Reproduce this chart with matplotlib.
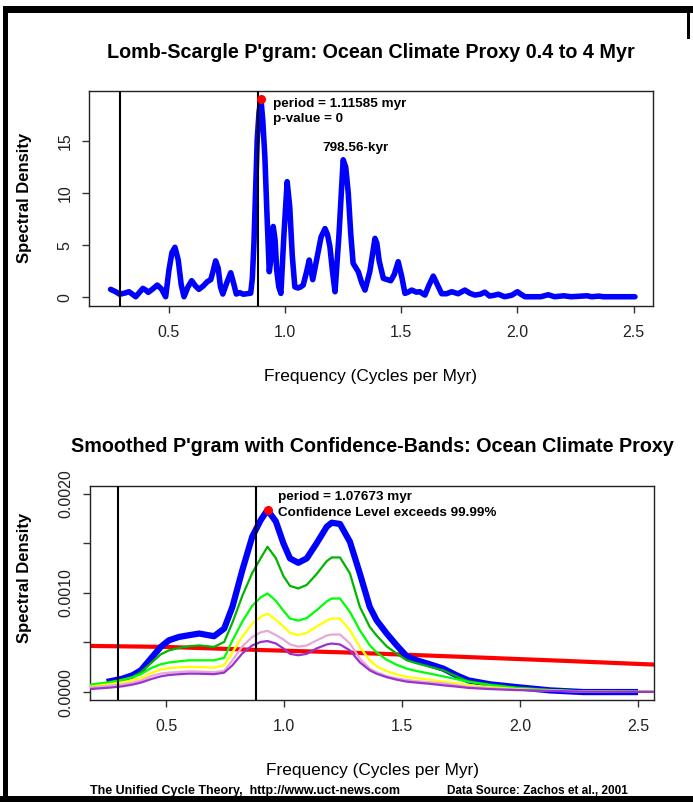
import numpy as np
import matplotlib
matplotlib.use("Agg")
import matplotlib.pyplot as plt
from matplotlib import font_manager
from matplotlib.patches import Rectangle

# ---- Lomb-Scargle periodogram (cycles per Myr vs spectral density) ----
ls_freq = [0.249, 0.270, 0.288, 0.308, 0.328, 0.343, 0.357, 0.372, 0.388, 0.400,
           0.411, 0.430, 0.450, 0.468, 0.486, 0.500, 0.513, 0.526, 0.540, 0.553,
           0.565, 0.582, 0.598, 0.614, 0.629, 0.648, 0.665, 0.680, 0.690, 0.701,
           0.712, 0.722, 0.732, 0.749, 0.766, 0.778, 0.790, 0.805, 0.820, 0.836,
           0.852, 0.859, 0.866, 0.873, 0.880, 0.888, 0.8962, 0.904, 0.913, 0.922,
           0.932, 0.940, 0.949, 0.957, 0.964, 0.973, 0.982, 0.995, 1.009, 1.020,
           1.031, 1.042, 1.055, 1.067, 1.078, 1.092, 1.104, 1.119, 1.135, 1.155,
           1.172, 1.183, 1.193, 1.204, 1.215, 1.232, 1.250, 1.261, 1.272, 1.283,
           1.293, 1.315, 1.330, 1.344, 1.365, 1.387, 1.395, 1.405, 1.423, 1.440,
           1.455, 1.470, 1.487, 1.502, 1.516, 1.530, 1.545, 1.565, 1.580, 1.602,
           1.620, 1.638, 1.656, 1.674, 1.695, 1.717, 1.745, 1.774, 1.795, 1.817,
           1.840, 1.860, 1.880, 1.900, 1.918, 1.945, 1.975, 2.000, 2.015, 2.033,
           2.100, 2.133, 2.160, 2.200, 2.230, 2.300, 2.320, 2.350, 2.370, 2.506]
ls_power = [0.77, 0.55, 0.30, 0.40, 0.54, 0.30, 0.06, 0.45, 0.86, 0.70,
            0.48, 0.80, 1.18, 0.80, 0.06, 2.60, 4.30, 4.80, 3.60, 1.20,
            0.06, 1.00, 1.60, 1.10, 0.77, 1.10, 1.50, 1.70, 2.50, 3.50,
            2.80, 1.00, 0.32, 1.40, 2.36, 1.40, 0.32, 0.45, 0.30, 0.35,
            0.40, 1.80, 5.20, 10.0, 15.1, 17.8, 19.0, 17.0, 13.5, 8.00,
            2.46, 3.80, 6.80, 5.50, 2.60, 1.00, 0.38, 6.00, 11.1, 8.70,
            4.00, 1.00, 0.90, 1.00, 1.18, 2.40, 3.58, 1.70, 3.50, 5.80,
            6.60, 6.00, 4.86, 2.50, 0.54, 6.00, 13.2, 12.5, 10.0, 6.00,
            3.26, 2.46, 1.40, 0.70, 2.50, 5.66, 5.20, 3.50, 1.82, 1.70,
            1.60, 2.20, 3.42, 2.00, 0.38, 0.50, 0.70, 0.50, 0.54, 0.22,
            1.20, 2.04, 1.20, 0.35, 0.35, 0.54, 0.35, 0.70, 0.40, 0.22,
            0.30, 0.50, 0.13, 0.20, 0.30, 0.06, 0.20, 0.54, 0.30, 0.06,
            0.06, 0.25, 0.06, 0.15, 0.06, 0.15, 0.06, 0.12, 0.06, 0.06]
ls_period = 1.11585            # myr, strongest peak
ls_peak = 19.0
ls_second_kyr = 798.56
ls_vlines = [0.289, 0.884]
ls_xticks = [0.5, 1.0, 1.5, 2.0, 2.5]
ls_yticks = [0, 5, 10, 15]

# ---- Smoothed periodogram with confidence bands (values in 1e-3 units) ----
sm_freq = [0.175, 0.260, 0.314, 0.356, 0.392, 0.434, 0.476, 0.511, 0.554, 0.596,
           0.639, 0.702, 0.745, 0.780, 0.822, 0.864, 0.900, 0.9287, 0.964, 0.996,
           1.024, 1.059, 1.095, 1.137, 1.180, 1.201, 1.236, 1.278, 1.320, 1.362,
           1.391, 1.434, 1.476, 1.519, 1.561, 1.617, 1.674, 1.730, 1.780, 1.872,
           1.985, 2.126, 2.267, 2.486, 2.567]
sm_spec = [np.nan, 0.108, 0.135, 0.169, 0.219, 0.337, 0.455, 0.522, 0.556, 0.573,
           0.590, 0.563, 0.640, 0.859, 1.229, 1.566, 1.734, 1.835, 1.720, 1.500,
           1.347, 1.303, 1.347, 1.500, 1.667, 1.707, 1.694, 1.515, 1.196, 0.859,
           0.724, 0.590, 0.472, 0.360, 0.320, 0.280, 0.236, 0.169, 0.118, 0.078,
           0.050, 0.017, 0.000, 0.000, np.nan]
band_9999 = [0.068, 0.091, 0.118, 0.150, 0.200, 0.290, 0.380, 0.420, 0.445, 0.462,
             0.470, 0.455, 0.505, 0.700, 0.970, 1.200, 1.350, 1.465, 1.350, 1.170,
             1.070, 1.044, 1.080, 1.190, 1.320, 1.357, 1.357, 1.196, 0.859, 0.657,
             0.570, 0.460, 0.388, 0.320, 0.290, 0.255, 0.219, 0.159, 0.108, 0.075,
             0.045, 0.022, 0.008, 0.003, 0.002]
band_999 = [0.075, 0.100, 0.125, 0.150, 0.180, 0.240, 0.280, 0.298, 0.310, 0.320,
            0.320, 0.320, 0.345, 0.520, 0.710, 0.870, 0.955, 0.994, 0.920, 0.820,
            0.741, 0.720, 0.745, 0.825, 0.915, 0.943, 0.943, 0.808, 0.623, 0.472,
            0.400, 0.325, 0.275, 0.236, 0.212, 0.186, 0.158, 0.130, 0.104, 0.070,
            0.040, 0.020, 0.007, 0.003, 0.002]
band_99 = [0.055, 0.080, 0.100, 0.120, 0.140, 0.190, 0.228, 0.242, 0.250, 0.253,
           0.252, 0.246, 0.270, 0.400, 0.560, 0.690, 0.760, 0.790, 0.730, 0.660,
           0.597, 0.575, 0.595, 0.660, 0.720, 0.741, 0.741, 0.623, 0.455, 0.320,
           0.260, 0.210, 0.178, 0.152, 0.140, 0.124, 0.105, 0.088, 0.070, 0.050,
           0.030, 0.016, 0.006, 0.002, 0.002]
band_95 = [0.045, 0.065, 0.078, 0.095, 0.115, 0.160, 0.186, 0.196, 0.202, 0.210,
           0.207, 0.200, 0.215, 0.320, 0.460, 0.555, 0.602, 0.617, 0.575, 0.530,
           0.480, 0.458, 0.470, 0.520, 0.570, 0.580, 0.580, 0.490, 0.337, 0.236,
           0.200, 0.160, 0.138, 0.122, 0.110, 0.098, 0.088, 0.070, 0.052, 0.040,
           0.025, 0.014, 0.005, 0.002, 0.002]
band_90 = [0.030, 0.045, 0.058, 0.075, 0.095, 0.130, 0.158, 0.172, 0.180, 0.186,
           0.185, 0.180, 0.196, 0.270, 0.390, 0.470, 0.505, 0.514, 0.490, 0.440,
           0.385, 0.371, 0.385, 0.440, 0.480, 0.489, 0.480, 0.420, 0.300, 0.219,
           0.185, 0.150, 0.125, 0.105, 0.095, 0.083, 0.068, 0.055, 0.042, 0.030,
           0.020, 0.012, 0.004, 0.002, 0.002]
red_freq = [0.175, 0.500, 0.880, 1.250, 1.700, 2.130, 2.567]
red_noise = [0.465, 0.455, 0.425, 0.400, 0.360, 0.320, 0.277]
sm_period = 1.07673
sm_peak = 1.835
sm_vlines = [0.294, 0.881]
sm_xticks = [0.5, 1.0, 1.5, 2.0, 2.5]
sm_yticks = [0.0, 0.0005, 0.0010, 0.0015, 0.0020]
sm_ylabels = ["0.0000", "", "0.0010", "", "0.0020"]
UNIT = 1e-3

band_colors = ["#00B400", "#00FF00", "#FFFF00", "#E6A8D7", "#9A32CD"]

# ---- fonts ----
available = {f.name for f in font_manager.fontManager.ttflist}
SANS = "Liberation Sans" if "Liberation Sans" in available else "DejaVu Sans"
NARROW = "Liberation Sans Narrow" if "Liberation Sans Narrow" in available else SANS
plt.rcParams["font.family"] = SANS

W, H = 693, 802
fig = plt.figure(figsize=(W / 100, H / 100), dpi=100)


def fx(px):
    return px / W


def fy(py):
    return 1 - py / H


def style_axes(ax):
    for s in ax.spines.values():
        s.set_color("#222222")
        s.set_linewidth(1.0)
    ax.tick_params(direction="out", length=5, width=1.0, color="#333333",
                   pad=9, labelsize=11.5, labelcolor="#222222")
    for lab in ax.get_xticklabels() + ax.get_yticklabels():
        lab.set_family(NARROW)
    ax.tick_params(axis="y", labelrotation=90, pad=7)
    for lab in ax.get_yticklabels():
        lab.set_va("center")


# ---------------- top panel ----------------
ax1 = fig.add_axes([fx(89), fy(305.7), fx(653.3 - 89), (305.7 - 91) / H])
ax1.set_xlim(0.156, 2.585)
ax1.set_ylim(-0.8, 19.8)
ax1.plot(ls_freq, ls_power, color="#0000FF", lw=4.0, solid_joinstyle="round",
         solid_capstyle="round", zorder=2)
for v in ls_vlines:
    ax1.axvline(v, color="black", lw=1.5, zorder=3)
ax1.plot([1 / ls_period], [ls_peak], "o", color="#FF0000", ms=5.5, zorder=4)
ax1.text(0.948, 18.55, f"period = {ls_period} myr", fontsize=9.7, fontweight="bold",
         va="center", ha="left")
ax1.text(0.948, 17.1, "p-value = 0", fontsize=9.7, fontweight="bold",
         va="center", ha="left")
ax1.text(1.303, 14.36, f"{ls_second_kyr}-kyr", fontsize=9.7, fontweight="bold",
         va="center", ha="center")
ax1.set_xticks(ls_xticks)
ax1.set_xticklabels([f"{t:.1f}" for t in ls_xticks])
ax1.set_yticks(ls_yticks)
ax1.set_yticklabels([str(t) for t in ls_yticks])
style_axes(ax1)

# ---------------- bottom panel ----------------
ax2 = fig.add_axes([fx(89.7), fy(700), fx(654 - 89.7), (700 - 485.7) / H])
ax2.set_xlim(0.175, 2.567)
ax2.set_ylim(-0.00008, 0.00208)
ax2.plot(red_freq, np.array(red_noise) * UNIT, color="#FF0000", lw=3.0, zorder=2)
ax2.plot(sm_freq, np.array(sm_spec) * UNIT, color="#0000FF", lw=4.5,
         solid_joinstyle="round", zorder=3)
for band, col in zip([band_9999, band_999, band_99, band_95, band_90], band_colors):
    ax2.plot(sm_freq, np.array(band) * UNIT, color=col, lw=1.6, zorder=4)
for v in sm_vlines:
    ax2.axvline(v, color="black", lw=1.5, zorder=5)
ax2.plot([1 / sm_period], [sm_peak * UNIT], "o", color="#FF0000", ms=5.5, zorder=6)
ax2.text(0.973, 1.967 * UNIT, f"period = {sm_period} myr", fontsize=9.7,
         fontweight="bold", va="center", ha="left")
ax2.text(0.973, 1.805 * UNIT, "Confidence Level exceeds 99.99%", fontsize=9.7,
         fontweight="bold", va="center", ha="left")
ax2.set_xticks(sm_xticks)
ax2.set_xticklabels([f"{t:.1f}" for t in sm_xticks])
ax2.set_yticks(sm_yticks)
ax2.set_yticklabels(sm_ylabels)
style_axes(ax2)

# ---------------- titles and axis labels ----------------
fig.text(fx(371), fy(52), "Lomb-Scargle P'gram: Ocean Climate Proxy 0.4 to 4 Myr",
         ha="center", va="center", fontsize=14.2, fontweight="bold")
fig.text(fx(372), fy(446), "Smoothed P'gram with Confidence-Bands: Ocean Climate Proxy",
         ha="center", va="center", fontsize=14.2, fontweight="bold")
fig.text(fx(371), fy(377), "Frequency (Cycles per Myr)", ha="center", va="center",
         fontsize=12.4)
fig.text(fx(372), fy(770), "Frequency (Cycles per Myr)", ha="center", va="center",
         fontsize=12.4)
fig.text(fx(25), fy(198), "Spectral Density", rotation=90, ha="center", va="center",
         fontsize=12, fontweight="bold")
fig.text(fx(25), fy(578), "Spectral Density", rotation=90, ha="center", va="center",
         fontsize=12, fontweight="bold")
fig.text(fx(90), fy(791), "The Unified Cycle Theory,  http://www.uct-news.com",
         ha="left", va="center", fontsize=9, fontweight="bold", family=NARROW)
fig.text(fx(628), fy(791), "Data Source: Zachos et al., 2001",
         ha="right", va="center", fontsize=8.5, fontweight="bold", family=NARROW)

# ---------------- page frame ----------------
frame = [(3, 6, W - 3, 7), (3, 6, 5, H - 6), (0, 796, W, 6), (687, 13, 3, 26)]
for x0, y0, w, h in frame:
    fig.add_artist(Rectangle((fx(x0), fy(y0 + h)), w / W, h / H,
                             transform=fig.transFigure, color="black", lw=0))

fig.savefig("out.png", dpi=100)
